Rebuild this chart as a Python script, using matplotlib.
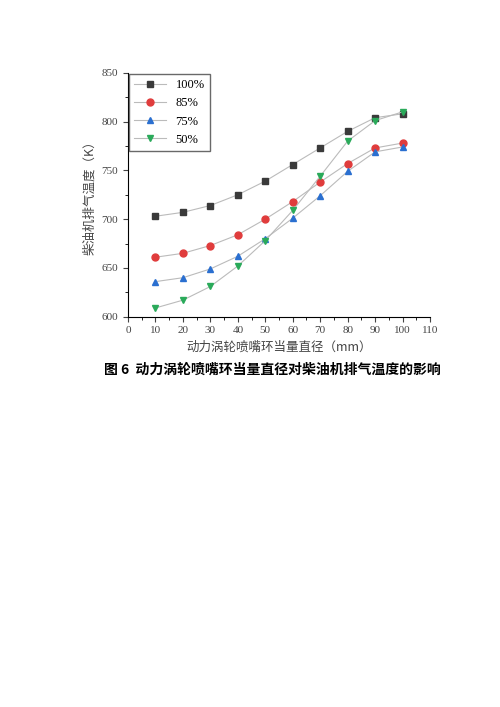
import matplotlib
matplotlib.use("Agg")
import matplotlib.pyplot as plt

plt.rcParams['font.family'] = ['Noto Sans CJK SC', 'DejaVu Sans']

diam = [10, 20, 30, 40, 50, 60, 70, 80, 90, 100]
load_labels = ["100%", "85%", "75%", "50%"]
t100 = [703, 707, 714, 725, 739, 756, 773, 790, 804, 808]
t85 = [661, 665, 673, 684, 700, 718, 738, 757, 773, 778]
t75 = [636, 640, 649, 662, 680, 701, 724, 749, 769, 774]
t50 = [609, 617, 631, 652, 678, 709, 744, 780, 801, 810]

series = [t100, t85, t75, t50]
colors = ["#3a3a3a", "#e03c3c", "#2a6fd0", "#2aaa5a"]
markers = ["s", "o", "^", "v"]

fig = plt.figure(figsize=(5, 7.07), dpi=100)
ax = fig.add_axes([0.256, 0.552, 0.604, 0.345])
for ys, c, m, lab in zip(series, colors, markers, load_labels):
    ax.plot(diam, ys, color="#bbbbbb", linewidth=0.8, marker=m, markersize=5,
            markerfacecolor=c, markeredgecolor=c, label=lab)

ax.set_xlim(0, 110)
ax.set_ylim(600, 850)
ax.set_xticks(range(0, 111, 10))
ax.set_yticks(range(600, 851, 50))
ax.set_xticks(range(5, 110, 10), minor=True)
ax.set_yticks(range(625, 850, 50), minor=True)
ax.spines["top"].set_visible(False)
ax.spines["right"].set_visible(False)
ax.tick_params(labelsize=8, colors="#444444")
for lbl in ax.get_xticklabels() + ax.get_yticklabels():
    lbl.set_family(["Liberation Serif", "DejaVu Serif"])
ax.set_xlabel("动力涡轮喷嘴环当量直径（mm）", fontsize=9, color="#444444")
ax.set_ylabel("柴油机排气温度（K）", fontsize=9, color="#444444")
leg = ax.legend(loc="upper left", fontsize=9, frameon=True, fancybox=False,
                edgecolor="#444444", borderaxespad=0.1, handlelength=2.5,
                prop={"family": ["Liberation Serif"], "size": 9})

fig.text(0.208, 0.477, "图 6  动力涡轮喷嘴环当量直径对柴油机排气温度的影响",
         fontsize=10, fontweight="bold", va="center", ha="left")

fig.savefig("out.png", dpi=100)
